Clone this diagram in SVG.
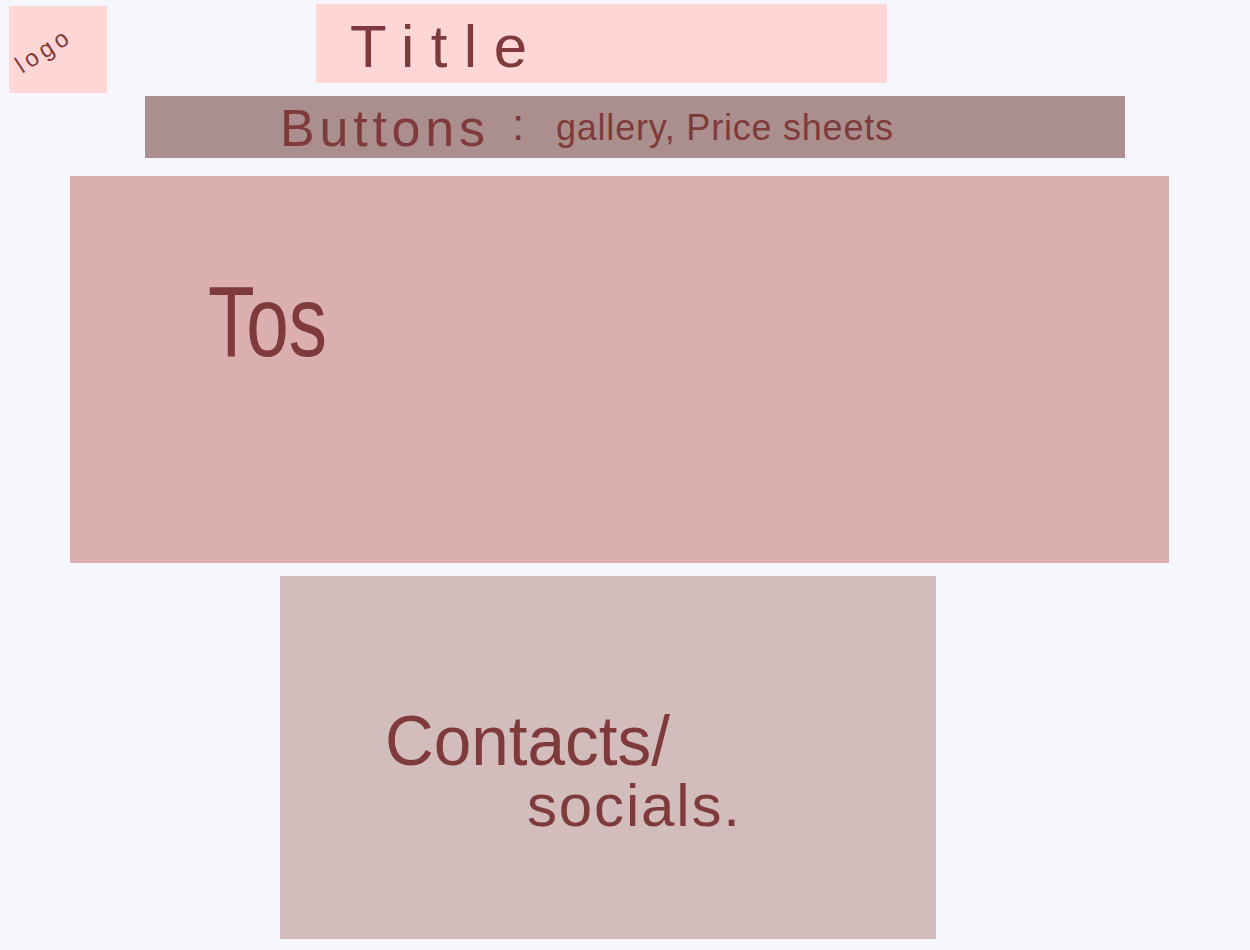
<svg xmlns="http://www.w3.org/2000/svg" width="1250" height="950" viewBox="0 0 1250 950">
<style>
.t{font-family:"Liberation Sans","DejaVu Sans",sans-serif;fill:#7f3b3b;}
</style>
<rect x="0" y="0" width="1250" height="950" fill="#f6f7fc"/>
<g id="logo">
<rect x="9" y="6" width="98" height="87" fill="#ffd6d6"/>
<text class="t" x="0" y="0" font-size="24" transform="translate(22,74) rotate(-33)" textLength="58" lengthAdjust="spacing">logo</text>
</g>
<g id="title">
<rect x="316" y="4" width="571" height="79" fill="#ffd6d6"/>
<text class="t" x="350" y="67" font-size="60" textLength="177" lengthAdjust="spacing">Title</text>
</g>
<g id="buttons">
<rect x="145" y="96" width="980" height="62" fill="#ab8f8e"/>
<text class="t" x="280" y="146" font-size="52" textLength="205" lengthAdjust="spacing">Buttons</text>
<text class="t" x="512" y="140" font-size="44">:</text>
<text class="t" x="556" y="140" font-size="36" textLength="337" lengthAdjust="spacing">gallery, Price  sheets</text>
</g>
<g id="tos">
<rect x="70" y="176" width="1099" height="387" fill="#dbafb0"/>
<text class="t" x="208" y="356" font-size="100" textLength="119" lengthAdjust="spacingAndGlyphs">Tos</text>
</g>
<g id="contacts">
<rect x="280" y="576" width="656" height="363" fill="#d2bcbc"/>
<text class="t" x="385" y="765" font-size="70" textLength="285" lengthAdjust="spacingAndGlyphs">Contacts/</text>
<text class="t" x="527" y="826" font-size="60" textLength="213" lengthAdjust="spacing">socials.</text>
</g>
</svg>
